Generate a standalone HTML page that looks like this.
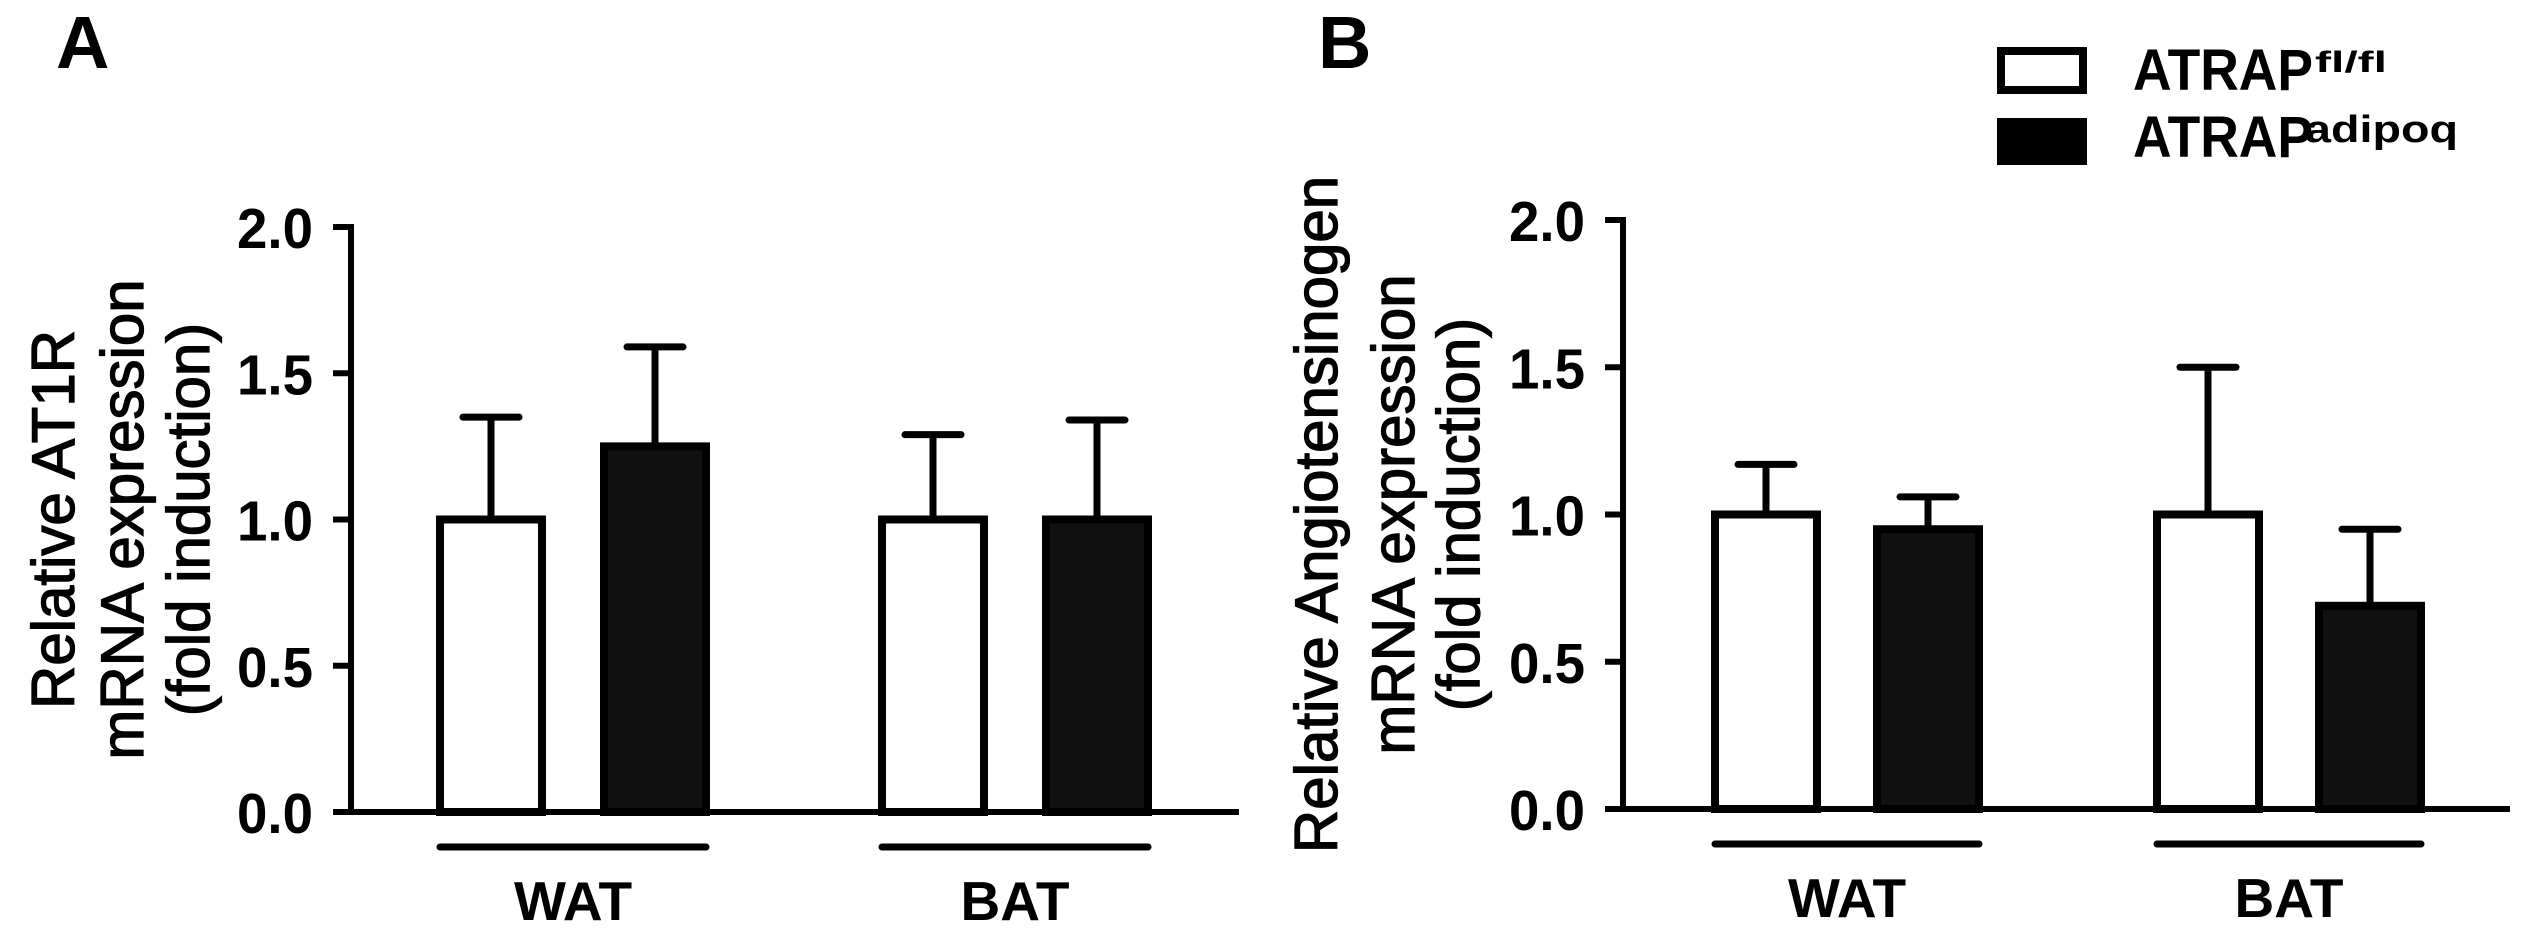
<!DOCTYPE html>
<html><head><meta charset="utf-8"><style>
html,body{margin:0;padding:0;background:#fff;}
svg{display:block;font-family:"Liberation Sans",Arial,sans-serif;}
</style></head><body>
<svg id="fig" width="2530" height="943" viewBox="0 0 2530 943" xmlns="http://www.w3.org/2000/svg">
<rect width="2530" height="943" fill="#fff"/>
<text x="56" y="68" font-size="74" font-weight="bold">A</text>
<text x="1318" y="68" font-size="74" font-weight="bold">B</text>
<g>
<rect x="2001" y="51" width="82" height="39" fill="#fff" stroke="#000" stroke-width="8"/>
<text x="2133" y="90" font-size="58" font-weight="bold" textLength="180" lengthAdjust="spacingAndGlyphs">ATRAP</text>
<text x="2315" y="72" font-size="30" font-weight="bold" textLength="72" lengthAdjust="spacingAndGlyphs">fl/fl</text>
<rect x="1997" y="118" width="90" height="47" fill="#000"/>
<text x="2133" y="157" font-size="58" font-weight="bold" textLength="180" lengthAdjust="spacingAndGlyphs">ATRAP</text>
<text x="2305" y="142" font-size="38" font-weight="bold" textLength="153" lengthAdjust="spacingAndGlyphs">adipoq</text>
</g>
<g id="pa"></g>
<g id="pb"></g>
</svg>
<script>
const categories = ["WAT","BAT"];
const ticks = [0.0,0.5,1.0,1.5,2.0];
const tickLabels = ["0.0","0.5","1.0","1.5","2.0"];
const aFlfl = [1.0,1.0];
const aFlflErr = [1.35,1.29];
const aAdipoq = [1.25,1.0];
const aAdipoqErr = [1.59,1.34];
const bFlfl = [1.0,1.0];
const bFlflErr = [1.17,1.5];
const bAdipoq = [0.95,0.69];
const bAdipoqErr = [1.06,0.95];
const NS="http://www.w3.org/2000/svg";
function mk(g,tag,attrs){const e=document.createElementNS(NS,tag);for(const k in attrs)e.setAttribute(k,attrs[k]);g.appendChild(e);return e;}
function panel(g,cfg,flfl,flErr,ad,adErr,titleLines,titleX){
  const y=v=>cfg.y0-(v/2)*(cfg.y0-cfg.y2);
  let ax=mk(g,'line',{x1:cfg.ax,y1:y(2)-3,x2:cfg.ax,y2:y(0),stroke:'#000','stroke-width':6});
  
  
  let xa=mk(g,'line',{x1:cfg.xs,y1:y(0),x2:cfg.xe,y2:y(0),stroke:'#000','stroke-width':6});
  
  
  ticks.forEach((t,i)=>{
    let tk=mk(g,'line',{x1:cfg.ax-18,y1:y(t),x2:cfg.ax,y2:y(t),stroke:'#000','stroke-width':6});
    
    
    let tl=mk(g,'text',{x:cfg.ax-38,y:y(t)+21,'font-size':57,'font-weight':'bold','text-anchor':'end',textLength:76,lengthAdjust:'spacingAndGlyphs'});
    tl.textContent=tickLabels[i];
    
    
  });
  categories.forEach((c,i)=>{
    const gx=cfg.g[i];
    [[flfl[i],flErr[i],gx,'#fff','bar-flfl-'+c.toLowerCase()],[ad[i],adErr[i],gx+cfg.off,'#111','bar-adipoq-'+c.toLowerCase()]].forEach(([v,e,x,fill,name])=>{
      const cx=x+cfg.bw/2;
      let el=mk(g,'line',{x1:cx,y1:y(e),x2:cx,y2:y(v),stroke:'#000','stroke-width':7});
      
      
      let cap=mk(g,'line',{x1:cx-28,y1:y(e),x2:cx+28,y2:y(e),stroke:'#000','stroke-width':7,'stroke-linecap':'round'});
      
      
      let r=mk(g,'rect',{x:x+4,y:y(v),width:cfg.bw-8,height:y(0)-y(v),fill:fill,stroke:'#000','stroke-width':8});
      
      
    });
    let gl=mk(g,'line',{x1:gx+4,y1:cfg.gy,x2:gx+cfg.off+cfg.bw-4,y2:cfg.gy,stroke:'#000','stroke-width':7,'stroke-linecap':'round'});
    
    
    let lt=mk(g,'text',{x:gx+(cfg.off+cfg.bw)/2,y:cfg.gy+73,'font-size':55,'font-weight':'bold','text-anchor':'middle'});
    lt.textContent=c;
    
    
  });
  const cy=(y(0)+y(2))/2;
  titleLines.forEach((s,i)=>{
    let t=mk(g,'text',{x:0,y:0,'font-size':60,'text-anchor':'middle',stroke:'#000','stroke-width':1.3,transform:`translate(${titleX[i]+13},${cy}) rotate(-90)`});
    t.textContent=s;
    
    
  });
}
panel(document.getElementById('pa'),{ax:351,y0:812,y2:227,xs:335,xe:1239,g:[436,878],off:164,bw:110,gy:847},
  aFlfl,aFlflErr,aAdipoq,aAdipoqErr,["Relative AT1R","mRNA  expression","(fold induction)"],[61,130,196]);
panel(document.getElementById('pb'),{ax:1623,y0:809,y2:220,xs:1607,xe:2510,g:[1711,2153],off:162,bw:110,gy:844},
  bFlfl,bFlflErr,bAdipoq,bAdipoqErr,["Relative Angiotensinogen","mRNA expression","(fold induction)"],[1324,1401,1466]);
</script>
</body></html>
